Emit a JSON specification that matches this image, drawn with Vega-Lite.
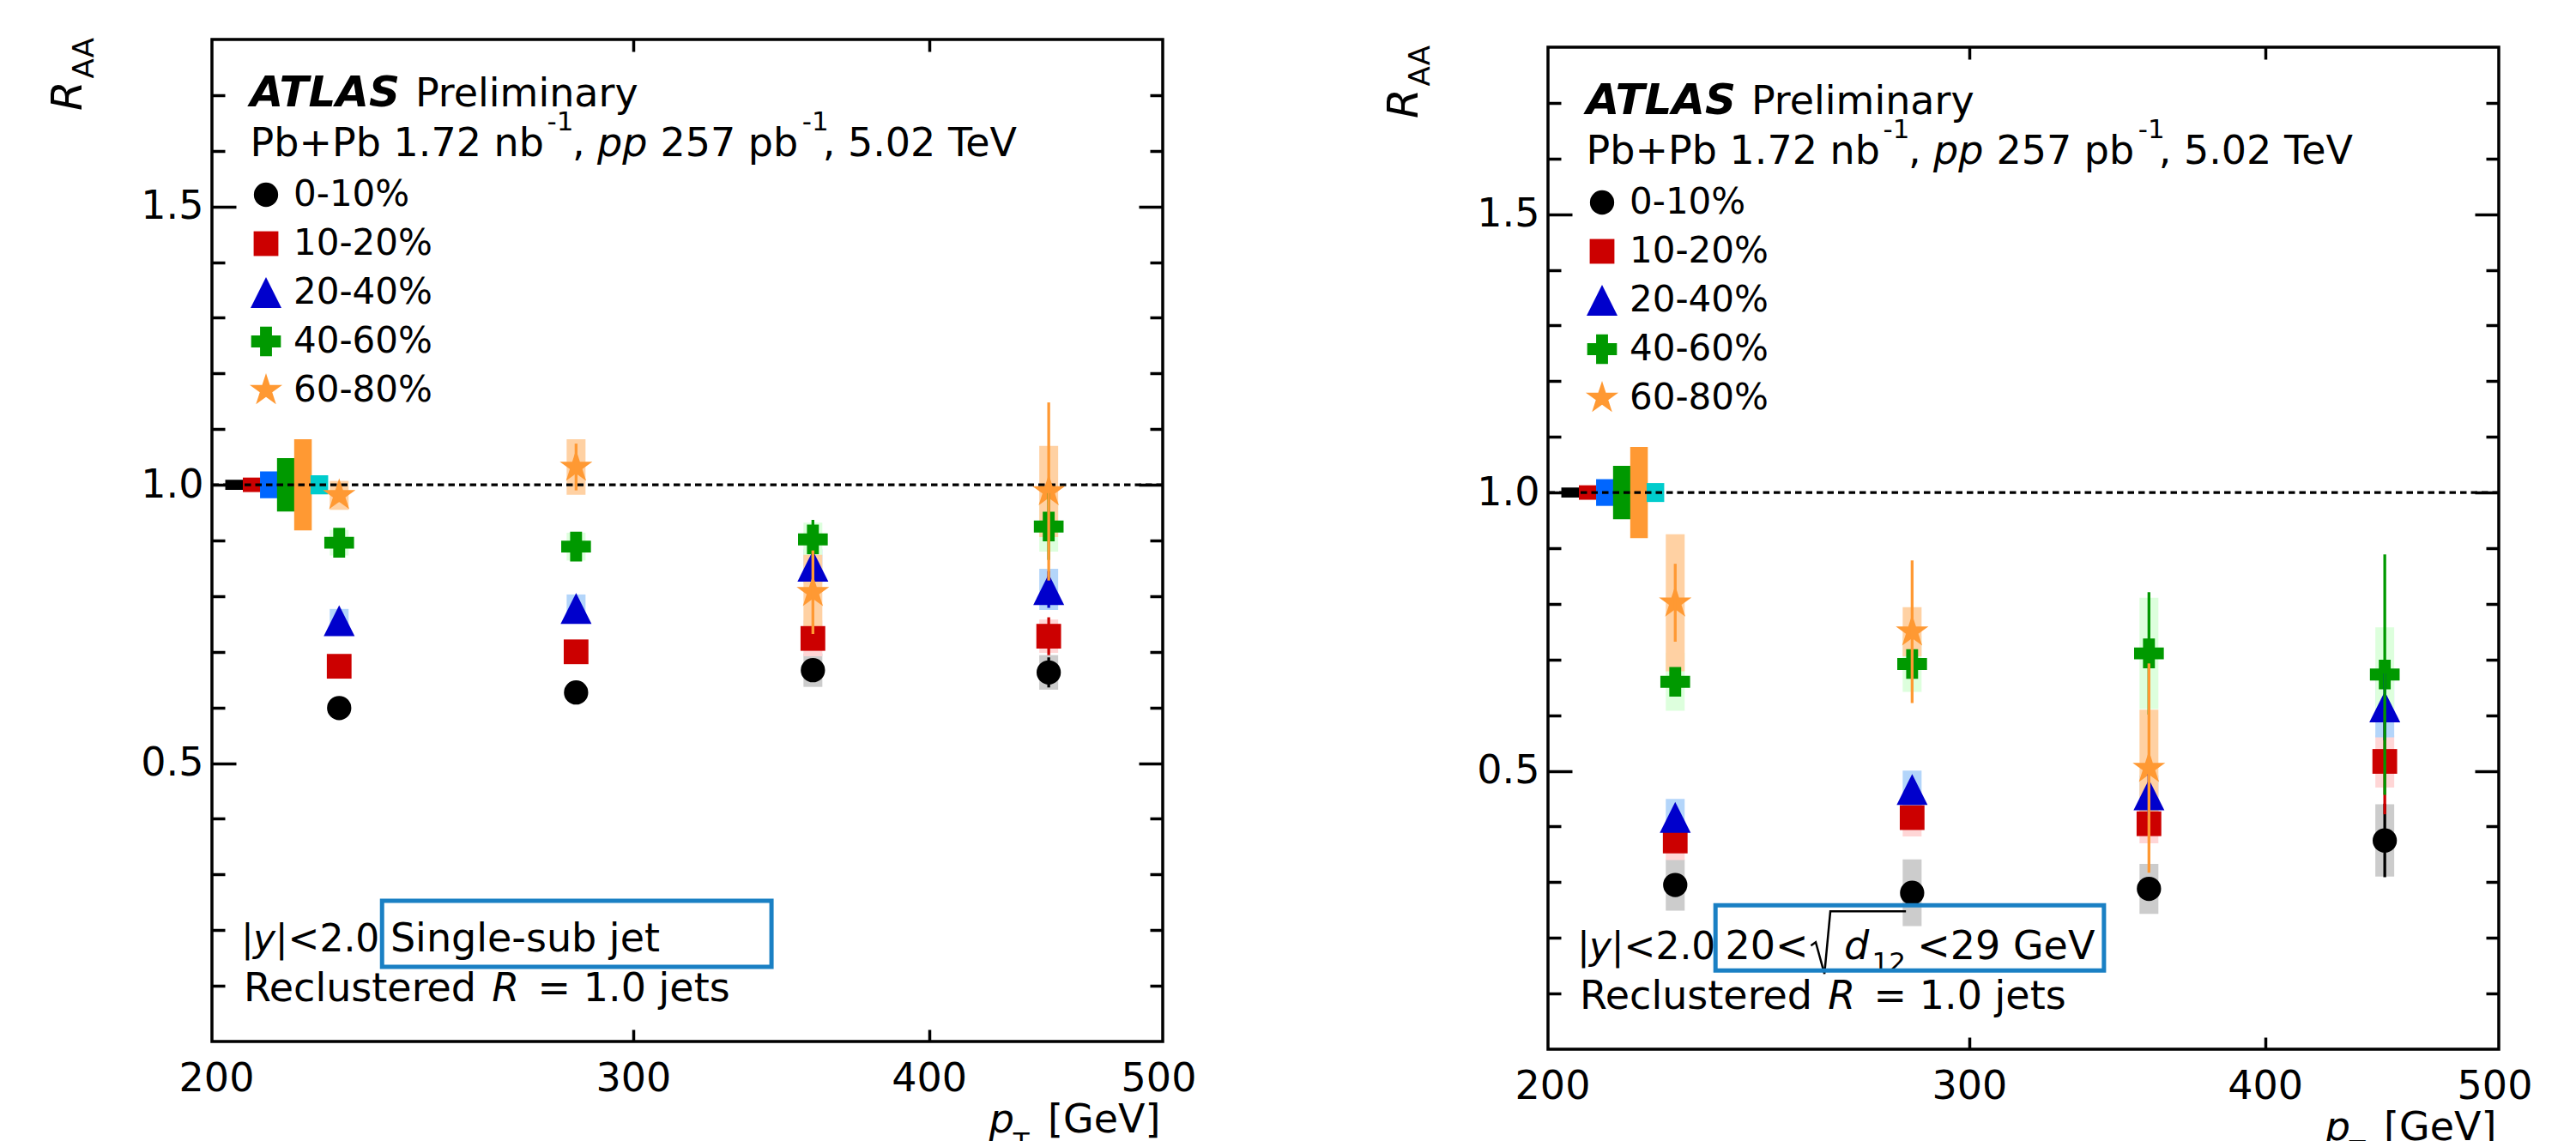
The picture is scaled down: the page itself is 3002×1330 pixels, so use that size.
{
"$schema": "https://vega.github.io/schema/vega-lite/v6.json",
"padding": {"left": 53, "top": 42, "right": 0, "bottom": 0},
"background": "white",
"config": {
  "view": {"stroke": "#000000", "strokeWidth": 3.5},
  "axis": {"labelFont": "DejaVu Sans", "labelFontSize": 46, "labelColor": "#000000", "tickColor": "#000000", "tickWidth": 3.5, "domain": false, "grid": false},
  "text": {"font": "DejaVu Sans"},
  "legend": {"labelFont": "DejaVu Sans", "labelLimit": 600}
},
"datasets": {
  "norm": [
    {"src": "TAA 0-10%", "pt": 203.5, "lo": 0.991, "hi": 1.009},
    {"src": "TAA 10-20%", "pt": 207.0, "lo": 0.987, "hi": 1.013},
    {"src": "TAA 20-40%", "pt": 210.5, "lo": 0.976, "hi": 1.024},
    {"src": "TAA 40-60%", "pt": 214.0, "lo": 0.952, "hi": 1.048},
    {"src": "TAA 60-80%", "pt": 217.6, "lo": 0.918, "hi": 1.082},
    {"src": "Lumi", "pt": 221.1, "lo": 0.983, "hi": 1.017}
  ],
  "pa": [
    {"cent": "0-10%", "pt": 225.4, "r": 0.599, "ylo": 0.595, "yhi": 0.603, "slo": 0.587, "shi": 0.611},
    {"cent": "0-10%", "pt": 283.8, "r": 0.627, "ylo": 0.622, "yhi": 0.632, "slo": 0.615, "shi": 0.639},
    {"cent": "0-10%", "pt": 357.3, "r": 0.667, "ylo": 0.655, "yhi": 0.679, "slo": 0.637, "shi": 0.697},
    {"cent": "0-10%", "pt": 449.4, "r": 0.663, "ylo": 0.636, "yhi": 0.690, "slo": 0.632, "shi": 0.694},
    {"cent": "10-20%", "pt": 225.4, "r": 0.674, "ylo": 0.669, "yhi": 0.679, "slo": 0.662, "shi": 0.686},
    {"cent": "10-20%", "pt": 283.8, "r": 0.700, "ylo": 0.694, "yhi": 0.706, "slo": 0.688, "shi": 0.712},
    {"cent": "10-20%", "pt": 357.3, "r": 0.724, "ylo": 0.710, "yhi": 0.738, "slo": 0.692, "shi": 0.756},
    {"cent": "10-20%", "pt": 449.4, "r": 0.728, "ylo": 0.694, "yhi": 0.762, "slo": 0.698, "shi": 0.758},
    {"cent": "20-40%", "pt": 225.4, "r": 0.756, "ylo": 0.750, "yhi": 0.762, "slo": 0.735, "shi": 0.777},
    {"cent": "20-40%", "pt": 283.8, "r": 0.778, "ylo": 0.771, "yhi": 0.785, "slo": 0.753, "shi": 0.803},
    {"cent": "20-40%", "pt": 357.3, "r": 0.854, "ylo": 0.836, "yhi": 0.872, "slo": 0.824, "shi": 0.884},
    {"cent": "20-40%", "pt": 449.4, "r": 0.812, "ylo": 0.779, "yhi": 0.845, "slo": 0.775, "shi": 0.849},
    {"cent": "40-60%", "pt": 225.4, "r": 0.896, "ylo": 0.888, "yhi": 0.904, "slo": 0.873, "shi": 0.919},
    {"cent": "40-60%", "pt": 283.8, "r": 0.889, "ylo": 0.879, "yhi": 0.899, "slo": 0.864, "shi": 0.914},
    {"cent": "40-60%", "pt": 357.3, "r": 0.902, "ylo": 0.867, "yhi": 0.937, "slo": 0.872, "shi": 0.932},
    {"cent": "40-60%", "pt": 449.4, "r": 0.925, "ylo": 0.865, "yhi": 0.985, "slo": 0.880, "shi": 0.970},
    {"cent": "60-80%", "pt": 225.4, "r": 0.981, "ylo": 0.969, "yhi": 0.993, "slo": 0.955, "shi": 1.007},
    {"cent": "60-80%", "pt": 283.8, "r": 1.032, "ylo": 0.990, "yhi": 1.074, "slo": 0.982, "shi": 1.082},
    {"cent": "60-80%", "pt": 357.3, "r": 0.807, "ylo": 0.732, "yhi": 0.882, "slo": 0.740, "shi": 0.874},
    {"cent": "60-80%", "pt": 449.4, "r": 0.988, "ylo": 0.828, "yhi": 1.148, "slo": 0.906, "shi": 1.070}
  ],
  "pb": [
    {"cent": "0-10%", "pt": 225.4, "r": 0.295, "ylo": 0.285, "yhi": 0.305, "slo": 0.249, "shi": 0.341},
    {"cent": "0-10%", "pt": 283.8, "r": 0.281, "ylo": 0.269, "yhi": 0.293, "slo": 0.221, "shi": 0.341},
    {"cent": "0-10%", "pt": 357.3, "r": 0.288, "ylo": 0.273, "yhi": 0.303, "slo": 0.243, "shi": 0.333},
    {"cent": "0-10%", "pt": 449.4, "r": 0.375, "ylo": 0.309, "yhi": 0.441, "slo": 0.310, "shi": 0.440},
    {"cent": "10-20%", "pt": 225.4, "r": 0.374, "ylo": 0.364, "yhi": 0.384, "slo": 0.340, "shi": 0.408},
    {"cent": "10-20%", "pt": 283.8, "r": 0.416, "ylo": 0.404, "yhi": 0.428, "slo": 0.382, "shi": 0.450},
    {"cent": "10-20%", "pt": 357.3, "r": 0.405, "ylo": 0.385, "yhi": 0.425, "slo": 0.370, "shi": 0.440},
    {"cent": "10-20%", "pt": 449.4, "r": 0.517, "ylo": 0.422, "yhi": 0.612, "slo": 0.470, "shi": 0.564},
    {"cent": "20-40%", "pt": 225.4, "r": 0.4165, "ylo": 0.4045, "yhi": 0.4285, "slo": 0.3835, "shi": 0.4495},
    {"cent": "20-40%", "pt": 283.8, "r": 0.4665, "ylo": 0.4545, "yhi": 0.4785, "slo": 0.4325, "shi": 0.5005},
    {"cent": "20-40%", "pt": 357.3, "r": 0.457, "ylo": 0.420, "yhi": 0.494, "slo": 0.422, "shi": 0.492},
    {"cent": "20-40%", "pt": 449.4, "r": 0.615, "ylo": 0.555, "yhi": 0.675, "slo": 0.560, "shi": 0.670},
    {"cent": "40-60%", "pt": 225.4, "r": 0.660, "ylo": 0.640, "yhi": 0.680, "slo": 0.608, "shi": 0.712},
    {"cent": "40-60%", "pt": 283.8, "r": 0.692, "ylo": 0.672, "yhi": 0.712, "slo": 0.642, "shi": 0.742},
    {"cent": "40-60%", "pt": 357.3, "r": 0.711, "ylo": 0.601, "yhi": 0.821, "slo": 0.611, "shi": 0.811},
    {"cent": "40-60%", "pt": 449.4, "r": 0.673, "ylo": 0.457, "yhi": 0.889, "slo": 0.588, "shi": 0.758},
    {"cent": "60-80%", "pt": 225.4, "r": 0.802, "ylo": 0.732, "yhi": 0.872, "slo": 0.679, "shi": 0.925},
    {"cent": "60-80%", "pt": 283.8, "r": 0.750, "ylo": 0.622, "yhi": 0.878, "slo": 0.706, "shi": 0.794},
    {"cent": "60-80%", "pt": 357.3, "r": 0.505, "ylo": 0.317, "yhi": 0.693, "slo": 0.400, "shi": 0.610}
  ],
  "t_norm": [
    {"x": 242.7, "y": 1.6795, "t": "Preliminary"},
    {"x": 206.7, "y": 1.590, "t": "Pb+Pb 1.72 nb"},
    {"x": 282.8, "y": 1.590, "t": ","},
    {"x": 308.0, "y": 1.590, "t": "257 pb"},
    {"x": 360.7, "y": 1.590, "t": ", 5.02 TeV"},
    {"x": 205.4, "y": 0.0724, "t": "Reclustered"},
    {"x": 273.4, "y": 0.0724, "t": "= 1.0 jets"},
    {"x": 449.0, "y": -0.164, "t": "[GeV]"}
  ],
  "t_ital": [
    {"x": 289.7, "y": 1.590, "t": "pp"},
    {"x": 261.5, "y": 0.0724, "t": "R"},
    {"x": 424.1, "y": -0.164, "t": "p"}
  ],
  "t_cut": [
    {"x": 204.9, "y": 0.162, "t": "|"},
    {"x": 211.8, "y": 0.162, "t": "|<2.0"}
  ],
  "t_cuti": [{"x": 207.3, "y": 0.162, "t": "y"}],
  "t_bold": [{"x": 206.7, "y": 1.6795, "t": "ATLAS"}],
  "t_small": [
    {"x": 275.9, "y": 1.636, "t": "-1"},
    {"x": 353.6, "y": 1.636, "t": "-1"},
    {"x": 434.1, "y": -0.197, "t": "T"}
  ],
  "t_yR": [{"x": 175.5, "y": 1.672, "t": "R"}],
  "t_yAA": [{"x": 177.5, "y": 1.730, "t": "AA"}],
  "ta_norm": [{"x": 236.9, "y": 0.162, "t": "Single-sub jet"}],
  "box_a": [{"x": 235.0, "x2": 343.2, "y": 0.134, "y2": 0.2527}],
  "tb_norm": [
    {"x": 236.6, "y": 0.162, "t": "20<"},
    {"x": 285.2, "y": 0.162, "t": "<29 GeV"}
  ],
  "tb_ital": [{"x": 265.6, "y": 0.162, "t": "d"}],
  "tb_small": [{"x": 272.9, "y": 0.140, "t": "12"}],
  "box_b": [{"x": 234.4, "x2": 342.0, "y": 0.1415, "y2": 0.2585}],
  "rad_b": [
    {"i": 0, "x": 257.2, "y": 0.1862},
    {"i": 1, "x": 258.4, "y": 0.1923},
    {"i": 2, "x": 260.6, "y": 0.1354},
    {"i": 3, "x": 262.1, "y": 0.2477},
    {"i": 4, "x": 282.1, "y": 0.2477}
  ]
},
"hconcat": [
  {
    "width": 1108, "height": 1168,
    "resolve": {"axis": {"x": "independent", "y": "independent"}},
    "layer": [
      {"data": {"name": "norm"}, "mark": {"type": "bar", "size": 20.5},
       "encoding": {
         "x": {"field": "pt", "type": "quantitative", "scale": {"type": "log", "domain": [200, 500], "nice": false}, "axis": {"orient": "bottom", "values": [200, 300, 400, 500], "labelExpr": "format(datum.value, 'd')", "ticks": false, "tickSize": 0, "labelPadding": 21, "labelFlush": false, "labelOverlap": false, "title": null}},
         "y": {"field": "lo", "type": "quantitative", "scale": {"domain": [0, 1.8], "nice": false, "zero": false}, "axis": {"orient": "left", "values": [0.5, 1, 1.5], "labelExpr": "format(datum.value, '.1f')", "ticks": false, "tickSize": 0, "labelPadding": 10, "labelOverlap": false, "title": null}},
         "y2": {"field": "hi"},
         "fill": {"field": "src", "type": "nominal", "legend": null, "scale": {"domain": ["0-10%", "10-20%", "20-40%", "40-60%", "60-80%", "TAA 0-10%", "TAA 10-20%", "TAA 20-40%", "TAA 40-60%", "TAA 60-80%", "Lumi"], "range": ["#CCCCCC", "#FFD6D6", "#B3D5FA", "#DDFFDD", "#FFD1A3", "#000000", "#CC0000", "#0066FF", "#009900", "#FF9933", "#00CCCC"]}}
       }},
      {"data": {"name": "pa"}, "mark": {"type": "bar", "size": 22},
       "encoding": {
         "x": {"field": "pt", "type": "quantitative", "scale": {"type": "log", "domain": [200, 500], "nice": false}, "axis": {"orient": "bottom", "values": [300, 400], "labels": false, "tickSize": 14, "offset": -14, "title": null}},
         "y": {"field": "slo", "type": "quantitative", "scale": {"domain": [0, 1.8], "nice": false, "zero": false}, "axis": {"orient": "left", "values": [0.5, 1, 1.5], "labels": false, "tickSize": 28, "offset": -28, "title": null}},
         "y2": {"field": "shi"},
         "fill": {"field": "cent", "type": "nominal", "legend": null, "scale": {"domain": ["0-10%", "10-20%", "20-40%", "40-60%", "60-80%", "TAA 0-10%", "TAA 10-20%", "TAA 20-40%", "TAA 40-60%", "TAA 60-80%", "Lumi"], "range": ["#CCCCCC", "#FFD6D6", "#B3D5FA", "#DDFFDD", "#FFD1A3", "#000000", "#CC0000", "#0066FF", "#009900", "#FF9933", "#00CCCC"]}}
       }},
      {"data": {"values": [{"ref": 1}]}, "mark": {"type": "rule", "strokeDash": [7.5, 5], "strokeWidth": 3.3, "color": "#000000"},
       "encoding": {"y": {"field": "ref", "type": "quantitative", "scale": {"domain": [0, 1.8], "nice": false, "zero": false}, "axis": null}}},
      {"data": {"name": "pa"}, "mark": {"type": "point", "filled": true, "opacity": 1, "strokeWidth": 0},
       "encoding": {
         "x": {"field": "pt", "type": "quantitative", "scale": {"type": "log", "domain": [200, 500], "nice": false}, "axis": {"orient": "top", "values": [300, 400], "labels": false, "tickSize": 14, "offset": -14, "title": null}},
         "y": {"field": "r", "type": "quantitative", "scale": {"domain": [0, 1.8], "nice": false, "zero": false}, "axis": {"orient": "right", "values": [0.5, 1, 1.5], "labels": false, "tickSize": 28, "offset": -28, "title": null}},
         "color": {"field": "cent", "type": "nominal", "scale": {"domain": ["0-10%", "10-20%", "20-40%", "40-60%", "60-80%"], "range": ["#000000", "#CC0000", "#0000CC", "#009900", "#FF9933"]}, "legend": {"orient": "none", "legendX": 42, "legendY": 160, "title": null, "labelFont": "DejaVu Sans", "labelFontSize": 42, "labelColor": "#000000", "labelLimit": 600, "symbolSize": 900, "rowPadding": 15, "labelOffset": 11, "padding": 0, "symbolStrokeWidth": 0, "symbolOpacity": 1}},
         "shape": {"field": "cent", "type": "nominal", "scale": {"domain": ["0-10%", "10-20%", "20-40%", "40-60%", "60-80%"], "range": ["circle", "square", "M0,-1L1,1L-1,1Z", "cross", "M0,-1L0.2245,-0.309L0.951,-0.309L0.363,0.118L0.588,0.809L0,0.382L-0.588,0.809L-0.363,0.118L-0.951,-0.309L-0.2245,-0.309Z"]}, "legend": {"orient": "none", "legendX": 42, "legendY": 160, "title": null, "labelFont": "DejaVu Sans", "labelFontSize": 42, "labelColor": "#000000", "labelLimit": 600, "symbolSize": 900, "rowPadding": 15, "labelOffset": 11, "padding": 0, "symbolStrokeWidth": 0, "symbolOpacity": 1}},
         "size": {"field": "cent", "type": "nominal", "scale": {"type": "ordinal", "domain": ["0-10%", "10-20%", "20-40%", "40-60%", "60-80%"], "range": [800, 830, 1300, 1200, 1600]}, "legend": null}
       }},
      {"data": {"name": "pa"}, "mark": {"type": "rule", "strokeWidth": 3.3},
       "encoding": {
         "x": {"field": "pt", "type": "quantitative", "scale": {"type": "log", "domain": [200, 500], "nice": false}, "axis": null},
         "y": {"field": "ylo", "type": "quantitative", "scale": {"domain": [0, 1.8], "nice": false, "zero": false}, "axis": {"orient": "left", "values": [0.1, 0.2, 0.3, 0.4, 0.6, 0.7, 0.8, 0.9, 1.1, 1.2, 1.3, 1.4, 1.6, 1.7], "labels": false, "tickSize": 15, "offset": -15, "title": null}},
         "y2": {"field": "yhi"},
         "stroke": {"field": "cent", "type": "nominal", "legend": null, "scale": {"domain": ["0-10%", "10-20%", "20-40%", "40-60%", "60-80%"], "range": ["#000000", "#CC0000", "#0000CC", "#009900", "#FF9933"]}}
       }},
      {"data": {"name": "t_norm"}, "mark": {"type": "text", "align": "left", "baseline": "alphabetic", "font": "DejaVu Sans", "fontSize": 46, "color": "#000000"},
       "encoding": {
         "x": {"field": "x", "type": "quantitative", "scale": {"type": "log", "domain": [200, 500], "nice": false}, "axis": null},
         "y": {"field": "y", "type": "quantitative", "scale": {"domain": [0, 1.8], "nice": false, "zero": false}, "axis": {"orient": "right", "values": [0.1, 0.2, 0.3, 0.4, 0.6, 0.7, 0.8, 0.9, 1.1, 1.2, 1.3, 1.4, 1.6, 1.7], "labels": false, "tickSize": 15, "offset": -15, "title": null}},
         "text": {"field": "t"}
       }},
      {"data": {"name": "t_ital"}, "mark": {"type": "text", "align": "left", "baseline": "alphabetic", "font": "DejaVu Sans", "fontStyle": "italic", "fontSize": 46, "color": "#000000"},
       "encoding": {"x": {"field": "x", "type": "quantitative", "scale": {"type": "log", "domain": [200, 500], "nice": false}, "axis": null}, "y": {"field": "y", "type": "quantitative", "scale": {"domain": [0, 1.8], "nice": false, "zero": false}, "axis": null}, "text": {"field": "t"}}},
      {"data": {"name": "t_cut"}, "mark": {"type": "text", "align": "left", "baseline": "alphabetic", "font": "DejaVu Sans", "fontSize": 44, "color": "#000000"},
       "encoding": {"x": {"field": "x", "type": "quantitative", "scale": {"type": "log", "domain": [200, 500], "nice": false}, "axis": null}, "y": {"field": "y", "type": "quantitative", "scale": {"domain": [0, 1.8], "nice": false, "zero": false}, "axis": null}, "text": {"field": "t"}}},
      {"data": {"name": "t_cuti"}, "mark": {"type": "text", "align": "left", "baseline": "alphabetic", "font": "DejaVu Sans", "fontStyle": "italic", "fontSize": 44, "color": "#000000"},
       "encoding": {"x": {"field": "x", "type": "quantitative", "scale": {"type": "log", "domain": [200, 500], "nice": false}, "axis": null}, "y": {"field": "y", "type": "quantitative", "scale": {"domain": [0, 1.8], "nice": false, "zero": false}, "axis": null}, "text": {"field": "t"}}},
      {"data": {"name": "t_bold"}, "mark": {"type": "text", "align": "left", "baseline": "alphabetic", "font": "DejaVu Sans", "fontStyle": "italic", "fontWeight": "bold", "fontSize": 50, "color": "#000000"},
       "encoding": {"x": {"field": "x", "type": "quantitative", "scale": {"type": "log", "domain": [200, 500], "nice": false}, "axis": null}, "y": {"field": "y", "type": "quantitative", "scale": {"domain": [0, 1.8], "nice": false, "zero": false}, "axis": null}, "text": {"field": "t"}}},
      {"data": {"name": "t_small"}, "mark": {"type": "text", "align": "left", "baseline": "alphabetic", "font": "DejaVu Sans", "fontSize": 31, "color": "#000000"},
       "encoding": {"x": {"field": "x", "type": "quantitative", "scale": {"type": "log", "domain": [200, 500], "nice": false}, "axis": null}, "y": {"field": "y", "type": "quantitative", "scale": {"domain": [0, 1.8], "nice": false, "zero": false}, "axis": null}, "text": {"field": "t"}}},
      {"data": {"name": "t_yR"}, "mark": {"type": "text", "align": "left", "baseline": "alphabetic", "angle": 270, "font": "DejaVu Sans", "fontStyle": "italic", "fontSize": 50, "color": "#000000"},
       "encoding": {"x": {"field": "x", "type": "quantitative", "scale": {"type": "log", "domain": [200, 500], "nice": false}, "axis": null}, "y": {"field": "y", "type": "quantitative", "scale": {"domain": [0, 1.8], "nice": false, "zero": false}, "axis": null}, "text": {"field": "t"}}},
      {"data": {"name": "t_yAA"}, "mark": {"type": "text", "align": "left", "baseline": "alphabetic", "angle": 270, "font": "DejaVu Sans", "fontSize": 34, "color": "#000000"},
       "encoding": {"x": {"field": "x", "type": "quantitative", "scale": {"type": "log", "domain": [200, 500], "nice": false}, "axis": null}, "y": {"field": "y", "type": "quantitative", "scale": {"domain": [0, 1.8], "nice": false, "zero": false}, "axis": null}, "text": {"field": "t"}}},
      {"data": {"name": "ta_norm"}, "mark": {"type": "text", "align": "left", "baseline": "alphabetic", "font": "DejaVu Sans", "fontSize": 46, "color": "#000000"},
       "encoding": {"x": {"field": "x", "type": "quantitative", "scale": {"type": "log", "domain": [200, 500], "nice": false}, "axis": null}, "y": {"field": "y", "type": "quantitative", "scale": {"domain": [0, 1.8], "nice": false, "zero": false}, "axis": null}, "text": {"field": "t"}}},
      {"data": {"name": "box_a"}, "mark": {"type": "rect", "fill": "transparent", "stroke": "#1A80C4", "strokeWidth": 5},
       "encoding": {"x": {"field": "x", "type": "quantitative", "scale": {"type": "log", "domain": [200, 500], "nice": false}, "axis": null}, "x2": {"field": "x2"}, "y": {"field": "y", "type": "quantitative", "scale": {"domain": [0, 1.8], "nice": false, "zero": false}, "axis": null}, "y2": {"field": "y2"}}}
    ]
  },
  {
    "spacing": 0,
    "bounds": "flush",
    "resolve": {"scale": {"x": "independent", "y": "independent", "color": "independent", "shape": "independent", "size": "independent", "fill": "independent", "stroke": "independent"}},
    "vconcat": [
      {"width": 1108, "height": 9, "data": {"values": []}, "mark": "point", "view": {"stroke": null}},
      {
        "width": 1108, "height": 1168,
        "resolve": {"axis": {"x": "independent", "y": "independent"}},
        "layer": [
          {"data": {"name": "norm"}, "mark": {"type": "bar", "size": 20.5},
           "encoding": {
             "x": {"field": "pt", "type": "quantitative", "scale": {"type": "log", "domain": [200, 500], "nice": false}, "axis": {"orient": "bottom", "values": [200, 300, 400, 500], "labelExpr": "format(datum.value, 'd')", "ticks": false, "tickSize": 0, "labelPadding": 21, "labelFlush": false, "labelOverlap": false, "title": null}},
             "y": {"field": "lo", "type": "quantitative", "scale": {"domain": [0, 1.8], "nice": false, "zero": false}, "axis": {"orient": "left", "values": [0.5, 1, 1.5], "labelExpr": "format(datum.value, '.1f')", "ticks": false, "tickSize": 0, "labelPadding": 10, "labelOverlap": false, "title": null}},
             "y2": {"field": "hi"},
             "fill": {"field": "src", "type": "nominal", "legend": null, "scale": {"domain": ["0-10%", "10-20%", "20-40%", "40-60%", "60-80%", "TAA 0-10%", "TAA 10-20%", "TAA 20-40%", "TAA 40-60%", "TAA 60-80%", "Lumi"], "range": ["#CCCCCC", "#FFD6D6", "#B3D5FA", "#DDFFDD", "#FFD1A3", "#000000", "#CC0000", "#0066FF", "#009900", "#FF9933", "#00CCCC"]}}
           }},
          {"data": {"name": "pb"}, "mark": {"type": "bar", "size": 22},
           "encoding": {
             "x": {"field": "pt", "type": "quantitative", "scale": {"type": "log", "domain": [200, 500], "nice": false}, "axis": {"orient": "bottom", "values": [300, 400], "labels": false, "tickSize": 14, "offset": -14, "title": null}},
             "y": {"field": "slo", "type": "quantitative", "scale": {"domain": [0, 1.8], "nice": false, "zero": false}, "axis": {"orient": "left", "values": [0.5, 1, 1.5], "labels": false, "tickSize": 28, "offset": -28, "title": null}},
             "y2": {"field": "shi"},
             "fill": {"field": "cent", "type": "nominal", "legend": null, "scale": {"domain": ["0-10%", "10-20%", "20-40%", "40-60%", "60-80%", "TAA 0-10%", "TAA 10-20%", "TAA 20-40%", "TAA 40-60%", "TAA 60-80%", "Lumi"], "range": ["#CCCCCC", "#FFD6D6", "#B3D5FA", "#DDFFDD", "#FFD1A3", "#000000", "#CC0000", "#0066FF", "#009900", "#FF9933", "#00CCCC"]}}
           }},
          {"data": {"values": [{"ref": 1}]}, "mark": {"type": "rule", "strokeDash": [7.5, 5], "strokeWidth": 3.3, "color": "#000000"},
           "encoding": {"y": {"field": "ref", "type": "quantitative", "scale": {"domain": [0, 1.8], "nice": false, "zero": false}, "axis": null}}},
          {"data": {"name": "pb"}, "mark": {"type": "point", "filled": true, "opacity": 1, "strokeWidth": 0},
           "encoding": {
             "x": {"field": "pt", "type": "quantitative", "scale": {"type": "log", "domain": [200, 500], "nice": false}, "axis": {"orient": "top", "values": [300, 400], "labels": false, "tickSize": 14, "offset": -14, "title": null}},
             "y": {"field": "r", "type": "quantitative", "scale": {"domain": [0, 1.8], "nice": false, "zero": false}, "axis": {"orient": "right", "values": [0.5, 1, 1.5], "labels": false, "tickSize": 28, "offset": -28, "title": null}},
             "color": {"field": "cent", "type": "nominal", "scale": {"domain": ["0-10%", "10-20%", "20-40%", "40-60%", "60-80%"], "range": ["#000000", "#CC0000", "#0000CC", "#009900", "#FF9933"]}, "legend": {"orient": "none", "legendX": 42, "legendY": 160, "title": null, "labelFont": "DejaVu Sans", "labelFontSize": 42, "labelColor": "#000000", "labelLimit": 600, "symbolSize": 900, "rowPadding": 15, "labelOffset": 11, "padding": 0, "symbolStrokeWidth": 0, "symbolOpacity": 1}},
             "shape": {"field": "cent", "type": "nominal", "scale": {"domain": ["0-10%", "10-20%", "20-40%", "40-60%", "60-80%"], "range": ["circle", "square", "M0,-1L1,1L-1,1Z", "cross", "M0,-1L0.2245,-0.309L0.951,-0.309L0.363,0.118L0.588,0.809L0,0.382L-0.588,0.809L-0.363,0.118L-0.951,-0.309L-0.2245,-0.309Z"]}, "legend": {"orient": "none", "legendX": 42, "legendY": 160, "title": null, "labelFont": "DejaVu Sans", "labelFontSize": 42, "labelColor": "#000000", "labelLimit": 600, "symbolSize": 900, "rowPadding": 15, "labelOffset": 11, "padding": 0, "symbolStrokeWidth": 0, "symbolOpacity": 1}},
             "size": {"field": "cent", "type": "nominal", "scale": {"type": "ordinal", "domain": ["0-10%", "10-20%", "20-40%", "40-60%", "60-80%"], "range": [800, 830, 1300, 1200, 1600]}, "legend": null}
           }},
          {"data": {"name": "pb"}, "mark": {"type": "rule", "strokeWidth": 3.3},
           "encoding": {
             "x": {"field": "pt", "type": "quantitative", "scale": {"type": "log", "domain": [200, 500], "nice": false}, "axis": null},
             "y": {"field": "ylo", "type": "quantitative", "scale": {"domain": [0, 1.8], "nice": false, "zero": false}, "axis": {"orient": "left", "values": [0.1, 0.2, 0.3, 0.4, 0.6, 0.7, 0.8, 0.9, 1.1, 1.2, 1.3, 1.4, 1.6, 1.7], "labels": false, "tickSize": 15, "offset": -15, "title": null}},
             "y2": {"field": "yhi"},
             "stroke": {"field": "cent", "type": "nominal", "legend": null, "scale": {"domain": ["0-10%", "10-20%", "20-40%", "40-60%", "60-80%"], "range": ["#000000", "#CC0000", "#0000CC", "#009900", "#FF9933"]}}
           }},
          {"data": {"name": "t_norm"}, "mark": {"type": "text", "align": "left", "baseline": "alphabetic", "font": "DejaVu Sans", "fontSize": 46, "color": "#000000"},
           "encoding": {
             "x": {"field": "x", "type": "quantitative", "scale": {"type": "log", "domain": [200, 500], "nice": false}, "axis": null},
             "y": {"field": "y", "type": "quantitative", "scale": {"domain": [0, 1.8], "nice": false, "zero": false}, "axis": {"orient": "right", "values": [0.1, 0.2, 0.3, 0.4, 0.6, 0.7, 0.8, 0.9, 1.1, 1.2, 1.3, 1.4, 1.6, 1.7], "labels": false, "tickSize": 15, "offset": -15, "title": null}},
             "text": {"field": "t"}
           }},
          {"data": {"name": "t_ital"}, "mark": {"type": "text", "align": "left", "baseline": "alphabetic", "font": "DejaVu Sans", "fontStyle": "italic", "fontSize": 46, "color": "#000000"},
           "encoding": {"x": {"field": "x", "type": "quantitative", "scale": {"type": "log", "domain": [200, 500], "nice": false}, "axis": null}, "y": {"field": "y", "type": "quantitative", "scale": {"domain": [0, 1.8], "nice": false, "zero": false}, "axis": null}, "text": {"field": "t"}}},
          {"data": {"name": "t_cut"}, "mark": {"type": "text", "align": "left", "baseline": "alphabetic", "font": "DejaVu Sans", "fontSize": 44, "color": "#000000"},
           "encoding": {"x": {"field": "x", "type": "quantitative", "scale": {"type": "log", "domain": [200, 500], "nice": false}, "axis": null}, "y": {"field": "y", "type": "quantitative", "scale": {"domain": [0, 1.8], "nice": false, "zero": false}, "axis": null}, "text": {"field": "t"}}},
          {"data": {"name": "t_cuti"}, "mark": {"type": "text", "align": "left", "baseline": "alphabetic", "font": "DejaVu Sans", "fontStyle": "italic", "fontSize": 44, "color": "#000000"},
           "encoding": {"x": {"field": "x", "type": "quantitative", "scale": {"type": "log", "domain": [200, 500], "nice": false}, "axis": null}, "y": {"field": "y", "type": "quantitative", "scale": {"domain": [0, 1.8], "nice": false, "zero": false}, "axis": null}, "text": {"field": "t"}}},
          {"data": {"name": "t_bold"}, "mark": {"type": "text", "align": "left", "baseline": "alphabetic", "font": "DejaVu Sans", "fontStyle": "italic", "fontWeight": "bold", "fontSize": 50, "color": "#000000"},
           "encoding": {"x": {"field": "x", "type": "quantitative", "scale": {"type": "log", "domain": [200, 500], "nice": false}, "axis": null}, "y": {"field": "y", "type": "quantitative", "scale": {"domain": [0, 1.8], "nice": false, "zero": false}, "axis": null}, "text": {"field": "t"}}},
          {"data": {"name": "t_small"}, "mark": {"type": "text", "align": "left", "baseline": "alphabetic", "font": "DejaVu Sans", "fontSize": 31, "color": "#000000"},
           "encoding": {"x": {"field": "x", "type": "quantitative", "scale": {"type": "log", "domain": [200, 500], "nice": false}, "axis": null}, "y": {"field": "y", "type": "quantitative", "scale": {"domain": [0, 1.8], "nice": false, "zero": false}, "axis": null}, "text": {"field": "t"}}},
          {"data": {"name": "t_yR"}, "mark": {"type": "text", "align": "left", "baseline": "alphabetic", "angle": 270, "font": "DejaVu Sans", "fontStyle": "italic", "fontSize": 50, "color": "#000000"},
           "encoding": {"x": {"field": "x", "type": "quantitative", "scale": {"type": "log", "domain": [200, 500], "nice": false}, "axis": null}, "y": {"field": "y", "type": "quantitative", "scale": {"domain": [0, 1.8], "nice": false, "zero": false}, "axis": null}, "text": {"field": "t"}}},
          {"data": {"name": "t_yAA"}, "mark": {"type": "text", "align": "left", "baseline": "alphabetic", "angle": 270, "font": "DejaVu Sans", "fontSize": 34, "color": "#000000"},
           "encoding": {"x": {"field": "x", "type": "quantitative", "scale": {"type": "log", "domain": [200, 500], "nice": false}, "axis": null}, "y": {"field": "y", "type": "quantitative", "scale": {"domain": [0, 1.8], "nice": false, "zero": false}, "axis": null}, "text": {"field": "t"}}},
          {"data": {"name": "tb_norm"}, "mark": {"type": "text", "align": "left", "baseline": "alphabetic", "font": "DejaVu Sans", "fontSize": 46, "color": "#000000"},
           "encoding": {"x": {"field": "x", "type": "quantitative", "scale": {"type": "log", "domain": [200, 500], "nice": false}, "axis": null}, "y": {"field": "y", "type": "quantitative", "scale": {"domain": [0, 1.8], "nice": false, "zero": false}, "axis": null}, "text": {"field": "t"}}},
          {"data": {"name": "tb_ital"}, "mark": {"type": "text", "align": "left", "baseline": "alphabetic", "font": "DejaVu Sans", "fontStyle": "italic", "fontSize": 46, "color": "#000000"},
           "encoding": {"x": {"field": "x", "type": "quantitative", "scale": {"type": "log", "domain": [200, 500], "nice": false}, "axis": null}, "y": {"field": "y", "type": "quantitative", "scale": {"domain": [0, 1.8], "nice": false, "zero": false}, "axis": null}, "text": {"field": "t"}}},
          {"data": {"name": "tb_small"}, "mark": {"type": "text", "align": "left", "baseline": "alphabetic", "font": "DejaVu Sans", "fontSize": 31, "color": "#000000"},
           "encoding": {"x": {"field": "x", "type": "quantitative", "scale": {"type": "log", "domain": [200, 500], "nice": false}, "axis": null}, "y": {"field": "y", "type": "quantitative", "scale": {"domain": [0, 1.8], "nice": false, "zero": false}, "axis": null}, "text": {"field": "t"}}},
          {"data": {"name": "rad_b"}, "mark": {"type": "line", "color": "#000000", "strokeWidth": 2.5},
           "encoding": {"x": {"field": "x", "type": "quantitative", "scale": {"type": "log", "domain": [200, 500], "nice": false}, "axis": null}, "y": {"field": "y", "type": "quantitative", "scale": {"domain": [0, 1.8], "nice": false, "zero": false}, "axis": null}, "order": {"field": "i", "type": "quantitative"}}},
          {"data": {"name": "box_b"}, "mark": {"type": "rect", "fill": "transparent", "stroke": "#1A80C4", "strokeWidth": 5},
           "encoding": {"x": {"field": "x", "type": "quantitative", "scale": {"type": "log", "domain": [200, 500], "nice": false}, "axis": null}, "x2": {"field": "x2"}, "y": {"field": "y", "type": "quantitative", "scale": {"domain": [0, 1.8], "nice": false, "zero": false}, "axis": null}, "y2": {"field": "y2"}}}
        ]
      }
    ]
  }
],
"spacing": 449,
"bounds": "flush",
"resolve": {"scale": {"x": "independent", "y": "independent", "color": "independent", "shape": "independent", "size": "independent", "fill": "independent", "stroke": "independent"}, "legend": {"color": "independent", "shape": "independent"}}
}
